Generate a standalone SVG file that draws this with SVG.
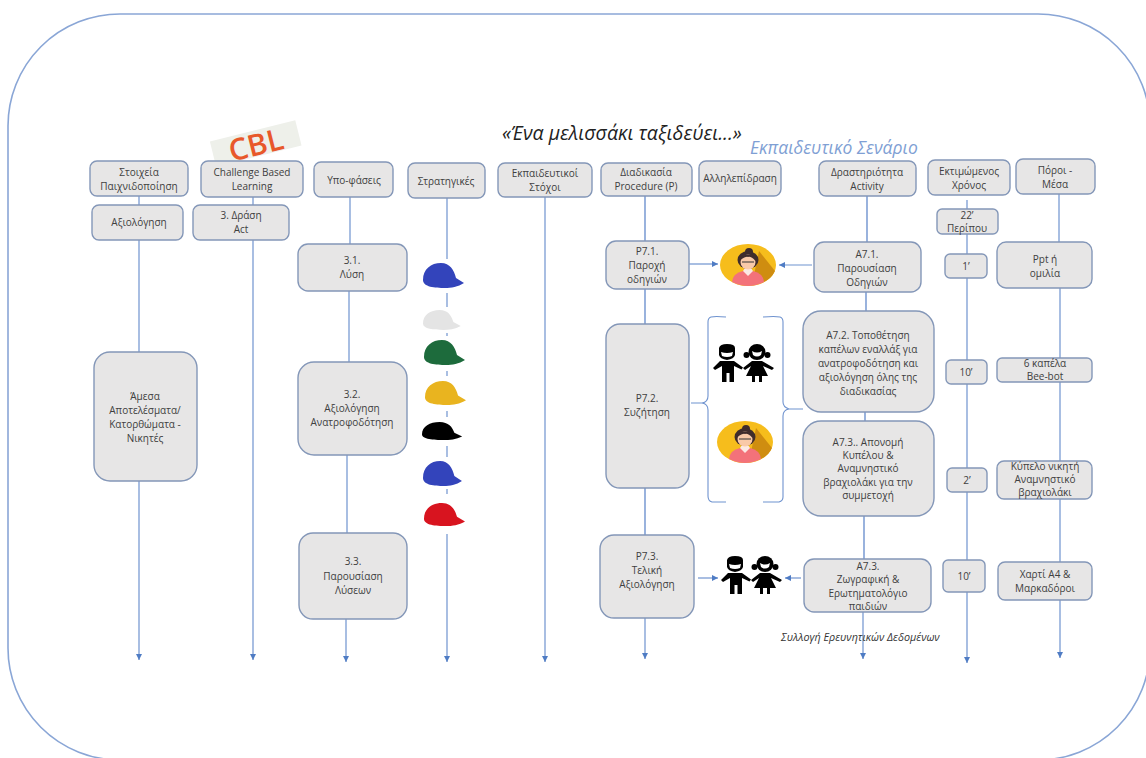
<svg xmlns="http://www.w3.org/2000/svg" xmlns:xlink="http://www.w3.org/1999/xlink" width="1146" height="758" viewBox="0 0 1146 758">
<style>
text{font-family:"Open Sans","Noto Sans",sans-serif;font-size:10px;fill:#404040;text-anchor:middle}
.box{fill:#e7e6e6;stroke:#8497b8;stroke-width:1.4}
.ln{fill:none;stroke:#6f93cf;stroke-width:1.4}
.ar{fill:none;stroke:#6f93cf;stroke-width:1.2;marker-end:url(#tip)}
.br{fill:none;stroke:#6f93cf;stroke-width:1.1}
.it{font-style:italic;text-anchor:start}
</style>
<defs>
<marker id="tip" markerWidth="7" markerHeight="7" refX="6" refY="3" orient="auto" markerUnits="userSpaceOnUse"><path d="M0 0L6 3L0 6Z" fill="#4f7cc4"/></marker>
<path id="cap" d="M0 17C0 6 8 0 18 0C27 0 31 7 33 15L41 20C35 24 28 25 22 25C12 25 0 24 0 17Z"/>
<g id="teacher">
<ellipse cx="0" cy="0" rx="28" ry="21" fill="#f6bd1c"/>
<path d="M11 -14L27 6Q23 15 13 18L6 10Z" fill="#cf8d10"/>
<path d="M-16 17Q-15 8 -5 6L5 6Q15 8 16 17Q8 21 0 21Q-8 21 -16 17Z" fill="#f3727a"/>
<path d="M-5 6L0 11L5 6L3 3H-3Z" fill="#fbe9e4"/>
<circle cx="1" cy="-13" r="4" fill="#3f2c2c"/>
<ellipse cx="0" cy="-5" rx="10.500" ry="9" fill="#3f2c2c"/>
<ellipse cx="0" cy="-3" rx="7.500" ry="7.500" fill="#f9c9a8"/>
<path d="M-7.500 -5Q-2 -9 0 -8Q3 -9 7.500 -4L7 -9Q0 -12 -7 -9Z" fill="#3f2c2c"/>
<path d="M-6 -3h4.500M1.500 -3h4.500M-1.500 -3h3" stroke="#333" stroke-width="1.100" fill="none"/>
</g>
<g id="kids" fill="#000">
<path d="M-24 -15Q-23 -19 -16 -19Q-8 -19 -8 -15L-8 -8Q-9 -4 -16 -3Q-23 -4 -24 -8Z"/>
<path d="M-22 -11Q-16 -9 -10 -11L-11 -7Q-16 -5 -21 -7Z" fill="#fff"/>
<path d="M-23 -2H-9L0 4.500L-1.500 6.500L-9 3V8L-9 19H-13.500V10H-16.500V19H-21V8L-21 3L-28 7L-30 5Z"/>
<ellipse cx="14" cy="-11" rx="8.500" ry="8"/>
<circle cx="3.500" cy="-8" r="3"/><circle cx="24.500" cy="-8" r="3"/>
<path d="M9 -2H19L31 5L29 7L20 3L25 13H19V19H16V13H12V19H9V13H3L8 3L2 7L0 5Z"/>
<path d="M9 -12Q14 -9 19 -12L18 -8Q14 -5 10 -8Z" fill="#fff"/>
</g>
</defs>

<!-- outer frame -->
<rect x="8" y="14" width="1142" height="746" rx="112" ry="112" fill="#fff" stroke="#8aa6d6" stroke-width="1.600"/>

<!-- vertical timelines and horizontal links -->
<g id="connectors">
<path class="ar" d="M139 196V660"/>
<path class="ar" d="M253 197V660"/>
<path class="ar" d="M350 197V244M349 291V362M347 455V533M346 619V662"/>
<path class="ar" d="M447 198V662"/>
<path class="ar" d="M545 197V662"/>
<path class="ln" d="M645 196V241M645 289V324M645 488V535"/>
<path class="ar" d="M645 618V659"/>
<path class="ln" d="M867 196V242M866 292V311M865 412V421M864 516V559"/>
<path class="ar" d="M863 612V659"/>
<path class="ar" d="M967 200V663"/>
<path class="ar" d="M1059 194V242M1060 288V658"/>
<path class="ar" d="M689 264H718"/>
<path class="ar" d="M812 265H779"/>
<path class="ar" d="M698 578H718"/>
<path class="ar" d="M801 578H785"/>
</g>

<!-- pale strip behind the CBL mark -->
<g id="cbl" transform="rotate(-14 254 145)">
<rect x="212" y="131" width="88" height="26" fill="#eef0ea"/>
<text x="256" y="156" style="font-size:30px;fill:#e8582a;font-weight:600">CBL</text>
</g>

<text class="it" x="502" y="140" style="font-size:19.500px;fill:#222">«Ένα μελισσάκι ταξιδεύει...»</text>
<text class="it" x="750" y="154" style="font-size:17.500px;fill:#7f9fd4">Εκπαιδευτικό Σενάριο</text>
<text class="it" x="781" y="641" style="font-size:10.800px;fill:#333">Συλλογή  Ερευνητικών Δεδομένων</text>

<!-- column headers -->
<g id="h-gamification"><rect class="box" x="90" y="161" width="98" height="35" rx="7"/><text x="139" y="176">Στοιχεία</text><text x="139" y="190">Παιχνιδοποίηση</text></g>
<g id="h-eval"><rect class="box" x="92" y="205" width="91" height="35" rx="7"/><text x="139" y="226">Αξιολόγηση</text></g>
<g id="h-cbl"><rect class="box" x="201" y="161" width="102" height="36" rx="7"/><text x="252" y="176">Challenge Based</text><text x="252" y="190">Learning</text></g>
<g id="h-act"><rect class="box" x="193" y="205" width="96" height="35" rx="7"/><text x="241" y="219">3. Δράση</text><text x="241" y="233">Act</text></g>
<g id="h-subphases"><rect class="box" x="314" y="162" width="79" height="35" rx="7"/><text x="354" y="184">Υπο-φάσεις</text></g>
<g id="h-strategies"><rect class="box" x="408" y="163" width="77" height="35" rx="7"/><text x="446" y="185">Στρατηγικές</text></g>
<g id="h-goals"><rect class="box" x="498" y="163" width="94" height="34" rx="7"/><text x="545" y="177">Εκπαιδευτικοί</text><text x="545" y="191">Στόχοι</text></g>
<g id="h-procedure"><rect class="box" x="601" y="163" width="91" height="33" rx="7"/><text x="646" y="176">Διαδικασία</text><text x="646" y="190">Procedure (P)</text></g>
<g id="h-interaction"><rect class="box" x="699" y="161" width="82" height="35" rx="7"/><text x="740" y="182">Αλληλεπίδραση</text></g>
<g id="h-activity"><rect class="box" x="819" y="161" width="97" height="35" rx="7"/><text x="867" y="176">Δραστηριότητα</text><text x="867" y="190">Activity</text></g>
<g id="h-time"><rect class="box" x="928" y="160" width="82" height="35" rx="7"/><text x="969" y="175">Εκτιμώμενος</text><text x="969" y="189">Χρόνος</text></g>
<g id="h-resources"><rect class="box" x="1016" y="159" width="79" height="35" rx="7"/><text x="1055" y="174">Πόροι -</text><text x="1055" y="188">Μέσα</text></g>

<!-- outcomes column -->
<g id="n-results"><rect class="box" x="94" y="352" width="103" height="129" rx="16"/><text x="145" y="400">Άμεσα</text><text x="145" y="414">Αποτελέσματα/</text><text x="145" y="428">Κατορθώματα -</text><text x="145" y="442">Νικητές</text></g>

<!-- sub-phases -->
<g id="n-31"><rect class="box" x="298" y="244" width="109" height="47" rx="10"/><text x="352" y="264">3.1.</text><text x="352" y="278">Λύση</text></g>
<g id="n-32"><rect class="box" x="298" y="362" width="109" height="93" rx="16"/><text x="352" y="398">3.2.</text><text x="352" y="412">Αξιολόγηση</text><text x="352" y="426">Ανατροφοδότηση</text></g>
<g id="n-33"><rect class="box" x="299" y="533" width="108" height="86" rx="14"/><text x="353" y="565">3.3.</text><text x="353" y="580">Παρουσίαση</text><text x="353" y="594">Λύσεων</text></g>

<!-- six thinking hats -->
<g id="hats">
<rect x="420" y="259" width="50" height="34" fill="#fff"/>
<rect x="420" y="307" width="50" height="26" fill="#fff"/>
<rect x="420" y="336" width="50" height="35" fill="#fff"/>
<rect x="420" y="376" width="50" height="35" fill="#fff"/>
<rect x="420" y="417" width="50" height="29" fill="#fff"/>
<rect x="420" y="457" width="50" height="32" fill="#fff"/>
<rect x="420" y="494" width="50" height="40" fill="#fff"/>
<use xlink:href="#cap" href="#cap" transform="translate(423 263)" fill="#3344bb"/>
<use xlink:href="#cap" href="#cap" transform="translate(423 310) scale(.92 .8)" fill="#e4e4e4"/>
<use xlink:href="#cap" href="#cap" transform="translate(424 340)" fill="#1d6b3c"/>
<use xlink:href="#cap" href="#cap" transform="translate(425 381) scale(1 .96)" fill="#e9b41f"/>
<use xlink:href="#cap" href="#cap" transform="translate(422 422) scale(.98 .72)" fill="#000"/>
<use xlink:href="#cap" href="#cap" transform="translate(423 461) scale(.95 1)" fill="#3344bb"/>
<use xlink:href="#cap" href="#cap" transform="translate(424 503) scale(1 .92)" fill="#d8141f"/>
</g>

<!-- procedure column -->
<g id="n-p71"><rect class="box" x="606" y="241" width="83" height="48" rx="10"/><text x="647" y="255">P7.1.</text><text x="647" y="269">Παροχή</text><text x="647" y="283">οδηγιών</text></g>
<g id="n-p72"><rect class="box" x="606" y="324" width="83" height="164" rx="14"/><text x="647" y="402">P7.2.</text><text x="647" y="416">Συζήτηση</text></g>
<g id="n-p73"><rect class="box" x="600" y="535" width="94" height="83" rx="14"/><text x="647" y="560">P7.3.</text><text x="647" y="574">Τελική</text><text x="647" y="588">Αξιολόγηση</text></g>

<!-- interaction icons -->
<g id="i-teacher1"><use xlink:href="#teacher" href="#teacher" x="748" y="265"/></g>
<g id="i-kids1"><use xlink:href="#kids" href="#kids" x="743" y="363"/></g>
<g id="i-teacher2"><use xlink:href="#teacher" href="#teacher" x="745" y="442"/></g>
<g id="i-kids2"><use xlink:href="#kids" href="#kids" x="751" y="575"/></g>
<g id="braces">
<path class="br" d="M726 317Q715 316 711 317Q708 318 708 322V396Q708 402 702 403L691 403M702 403Q708 404 708 410V496Q708 501 712 502H726"/>
<path class="br" d="M763 317Q775 316 780 317Q783 318 783 322V402Q783 407 789 409H803M789 409Q783 410 783 416V497Q783 501 779 502H763"/>
</g>

<!-- activity column -->
<g id="n-a71"><rect class="box" x="814" y="242" width="107" height="50" rx="10"/><text x="867" y="258">A7.1.</text><text x="867" y="272">Παρουσίαση</text><text x="867" y="286">Οδηγιών</text></g>
<g id="n-a72"><rect class="box" x="803" y="311" width="131" height="101" rx="18"/><text x="868" y="339">A7.2. Τοποθέτηση</text><text x="868" y="353">καπέλων εναλλάξ για</text><text x="868" y="367">ανατροφοδότηση και</text><text x="868" y="381">αξιολόγηση όλης της</text><text x="868" y="395">διαδικασίας</text></g>
<g id="n-a73a"><rect class="box" x="803" y="421" width="131" height="95" rx="18"/><text x="868" y="446">A7.3.. Απονομή</text><text x="868" y="459">Κυπέλου &amp;</text><text x="868" y="472">Αναμνηστικό</text><text x="868" y="486">βραχιολάκι για την</text><text x="868" y="499">συμμετοχή</text></g>
<g id="n-a73b"><rect class="box" x="804" y="559" width="127" height="53" rx="10"/><text x="868" y="570">A7.3.</text><text x="868" y="583">Ζωγραφική &amp;</text><text x="868" y="597">Ερωτηματολόγιο</text><text x="868" y="610">παιδιών</text></g>

<!-- estimated time -->
<g id="t-total"><rect class="box" x="937" y="209" width="61" height="25" rx="5"/><text x="967" y="219">22’</text><text x="967" y="232">Περίπου</text></g>
<g id="t-1"><rect class="box" x="945" y="254" width="42" height="24" rx="5"/><text x="966" y="270">1’</text></g>
<g id="t-2"><rect class="box" x="946" y="360" width="41" height="24" rx="5"/><text x="966" y="376">10’</text></g>
<g id="t-3"><rect class="box" x="947" y="468" width="40" height="24" rx="5"/><text x="967" y="484">2’</text></g>
<g id="t-4"><rect class="box" x="943" y="560" width="42" height="32" rx="5"/><text x="964" y="580">10’</text></g>

<!-- resources -->
<g id="r-1"><rect class="box" x="997" y="242" width="95" height="46" rx="9"/><text x="1045" y="263">Ppt ή</text><text x="1045" y="277">ομιλία</text></g>
<g id="r-2"><rect class="box" x="997" y="358" width="95" height="24" rx="5"/><text x="1045" y="367">6 καπέλα</text><text x="1045" y="380">Bee-bot</text></g>
<g id="r-3"><rect class="box" x="997" y="461" width="95" height="38" rx="7"/><text x="1045" y="470">Κύπελο νικητή</text><text x="1045" y="483">Αναμνηστικό</text><text x="1045" y="496">βραχιολάκι</text></g>
<g id="r-4"><rect class="box" x="998" y="562" width="94" height="38" rx="7"/><text x="1045" y="578">Χαρτί Α4 &amp;</text><text x="1045" y="592">Μαρκαδόροι</text></g>
</svg>
